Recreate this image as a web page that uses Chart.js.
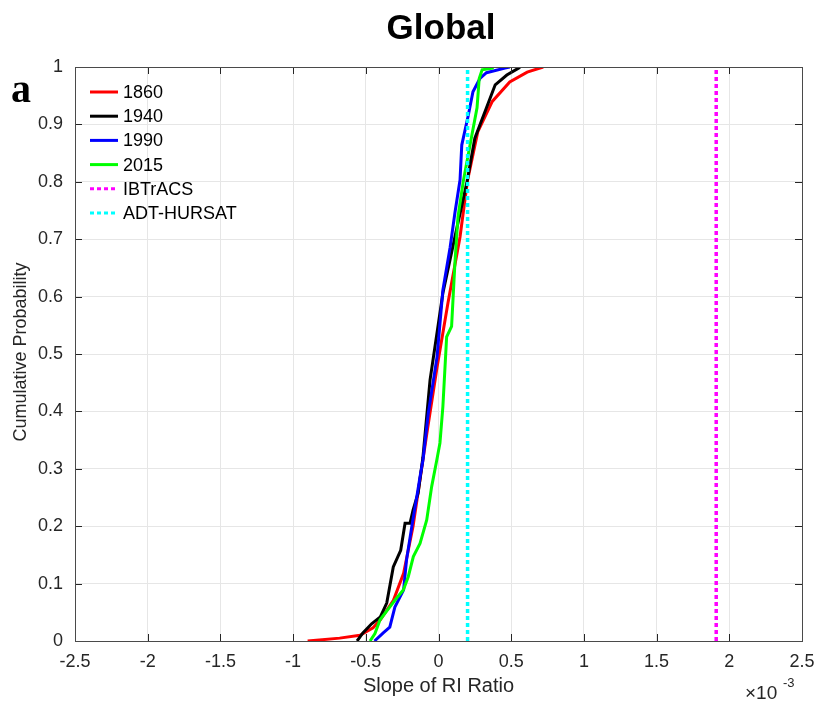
<!DOCTYPE html>
<html lang="en">
<head>
    <meta charset="UTF-8">
    <title>Global</title>
    <script src="https://cdn.jsdelivr.net/npm/chart.js"></script>
    <style>
        html, body { margin: 0; padding: 0; background: #fff; }
        .wrap { position: relative; width: 817px; height: 702px; }
    </style>
</head>
<body>
    <div class="wrap"><canvas id="cdfChart"></canvas></div>

    <script>
        // values in units of 1e-3
        const xTicks = [-2.5, -2, -1.5, -1, -0.5, 0, 0.5, 1, 1.5, 2, 2.5];
        const yTicks = [0, 0.1, 0.2, 0.3, 0.4, 0.5, 0.6, 0.7, 0.8, 0.9, 1];

        const x1860 = [-0.90, -0.68, -0.54, -0.45, -0.40, -0.31, -0.24, -0.175, -0.08, -0.01, 0.065, 0.148, 0.20, 0.27, 0.37, 0.49, 0.61, 0.72];
        const y1860 = [0, 0.005, 0.01, 0.023, 0.037, 0.071, 0.118, 0.20, 0.362, 0.477, 0.589, 0.704, 0.803, 0.887, 0.94, 0.974, 0.991, 1];

        const x1940 = [-0.56, -0.52, -0.46, -0.40, -0.356, -0.311, -0.26, -0.23, -0.196, -0.175, -0.14, -0.107, -0.058, 0.03, 0.113, 0.196, 0.25, 0.33, 0.39, 0.47, 0.55, 0.56];
        const y1940 = [0, 0.014, 0.03, 0.042, 0.066, 0.129, 0.158, 0.205, 0.205, 0.228, 0.258, 0.32, 0.455, 0.606, 0.704, 0.80, 0.876, 0.929, 0.969, 0.986, 0.998, 1];

        const x1990 = [-0.44, -0.38, -0.335, -0.30, -0.24, -0.22, -0.18, -0.145, -0.127, -0.107, -0.07, -0.01, 0.03, 0.08, 0.113, 0.148, 0.16, 0.205, 0.237, 0.285, 0.33, 0.457, 0.49];
        const y1990 = [0, 0.014, 0.024, 0.059, 0.089, 0.141, 0.205, 0.258, 0.286, 0.315, 0.397, 0.495, 0.611, 0.686, 0.746, 0.803, 0.864, 0.916, 0.957, 0.98, 0.99, 0.998, 1];

        const x2015 = [-0.471, -0.437, -0.402, -0.333, -0.30, -0.242, -0.208, -0.173, -0.127, -0.081, -0.047, -0.012, 0.01, 0.03, 0.056, 0.09, 0.113, 0.134, 0.17, 0.23, 0.265, 0.28, 0.30, 0.37, 0.375];
        const y2015 = [0, 0.013, 0.037, 0.06, 0.071, 0.089, 0.112, 0.147, 0.17, 0.211, 0.269, 0.315, 0.345, 0.408, 0.53, 0.548, 0.659, 0.739, 0.80, 0.882, 0.929, 0.98, 0.995, 0.998, 1];

        const ibtracsSlope = 1.91;
        const adtHursatSlope = 0.2;

        const pts = (xs, ys) => xs.map((x, i) => ({ x: x, y: ys[i] }));
        const vline = (x) => [{ x: x, y: 0 }, { x: x, y: 1 }];

        const textColor = '#262626';

        // title, panel letter, axis labels, box, inward ticks and legend
        const decorations = {
            id: 'decorations',
            afterDraw(chart) {
                const ctx = chart.ctx;
                const area = chart.chartArea;
                const xs = chart.scales.x;
                const ys = chart.scales.y;
                ctx.save();

                // inward ticks on all four sides
                ctx.strokeStyle = textColor;
                ctx.lineWidth = 1;
                ctx.beginPath();
                xTicks.forEach(v => {
                    const px = Math.round(xs.getPixelForValue(v)) + 0.5;
                    ctx.moveTo(px, area.bottom); ctx.lineTo(px, area.bottom - 7);
                    ctx.moveTo(px, area.top); ctx.lineTo(px, area.top + 7);
                });
                yTicks.forEach(v => {
                    const py = Math.round(ys.getPixelForValue(v)) + 0.5;
                    ctx.moveTo(area.left, py); ctx.lineTo(area.left + 7, py);
                    ctx.moveTo(area.right, py); ctx.lineTo(area.right - 7, py);
                });
                ctx.stroke();
                ctx.strokeStyle = '#4a4a4a';
                ctx.strokeRect(Math.round(area.left) + 0.5, Math.round(area.top) + 0.5,
                    Math.round(area.right - area.left), Math.round(area.bottom - area.top));

                // title
                ctx.fillStyle = '#000';
                ctx.textAlign = 'center';
                ctx.textBaseline = 'alphabetic';
                ctx.font = 'bold 35px "Liberation Sans", Arial, sans-serif';
                ctx.fillText('Global', 441, 39);

                // panel letter
                ctx.textAlign = 'left';
                ctx.font = 'bold 40px "Liberation Serif", "Times New Roman", serif';
                ctx.fillText('a', 11, 102);

                // axis labels
                ctx.fillStyle = textColor;
                ctx.textAlign = 'center';
                ctx.textBaseline = 'middle';
                ctx.font = '20px "Liberation Sans", Arial, sans-serif';
                ctx.fillText('Slope of RI Ratio', (area.left + area.right) / 2, 686);
                ctx.save();
                ctx.translate(21, 352);
                ctx.rotate(-Math.PI / 2);
                ctx.font = '18px "Liberation Sans", Arial, sans-serif';
                ctx.fillText('Cumulative Probability', 0, 0);
                ctx.restore();

                // exponent
                ctx.textAlign = 'left';
                ctx.font = '19px "Liberation Sans", Arial, sans-serif';
                ctx.fillText('\u00d710', 745, 694);
                ctx.font = '13px "Liberation Sans", Arial, sans-serif';
                ctx.fillText('-3', 783, 683);

                // legend
                const rowY = 92, rowStep = 24.2;
                chart.data.datasets.forEach((ds, i) => {
                    const y = rowY + i * rowStep;
                    ctx.strokeStyle = ds.borderColor;
                    ctx.lineWidth = 3;
                    ctx.setLineDash(ds.borderDash || []);
                    ctx.beginPath();
                    ctx.moveTo(90, y);
                    ctx.lineTo(118, y);
                    ctx.stroke();
                    ctx.setLineDash([]);
                    ctx.fillStyle = '#000';
                    ctx.font = '18px "Liberation Sans", Arial, sans-serif';
                    ctx.textBaseline = 'middle';
                    ctx.fillText(ds.label, 123, y + 1);
                });

                ctx.restore();
            }
        };

        new Chart(document.getElementById('cdfChart'), {
            type: 'line',
            data: {
                datasets: [
                    { label: '1860', data: pts(x1860, y1860), borderColor: '#ff0000', borderWidth: 3, order: 6 },
                    { label: '1940', data: pts(x1940, y1940), borderColor: '#000000', borderWidth: 3, order: 5 },
                    { label: '1990', data: pts(x1990, y1990), borderColor: '#0000ff', borderWidth: 3, order: 4 },
                    { label: '2015', data: pts(x2015, y2015), borderColor: '#00ff00', borderWidth: 3, order: 3 },
                    { label: 'IBTrACS', data: vline(ibtracsSlope), borderColor: '#ff00ff', borderWidth: 3.5, borderDash: [4, 3], order: 2 },
                    { label: 'ADT-HURSAT', data: vline(adtHursatSlope), borderColor: '#00ffff', borderWidth: 3.5, borderDash: [4, 3], order: 1 }
                ]
            },
            options: {
                responsive: true,
                maintainAspectRatio: false,
                animation: false,
                devicePixelRatio: 1,
                layout: { padding: { top: 67, right: 15, bottom: 0, left: 0 } },
                elements: {
                    point: { radius: 0, hoverRadius: 0 },
                    line: { tension: 0, fill: false, borderCapStyle: 'butt' }
                },
                plugins: {
                    legend: { display: false },
                    title: { display: false },
                    tooltip: { enabled: false }
                },
                scales: {
                    x: {
                        type: 'linear',
                        min: -2.5,
                        max: 2.5,
                        afterBuildTicks: (scale) => { scale.ticks = xTicks.map(v => ({ value: v })); },
                        afterFit: (scale) => {
                            scale.height = 61;
                            scale.paddingLeft = 0;
                            scale.paddingRight = 0;
                        },
                        grid: { color: '#e6e6e6', drawTicks: false },
                        border: { display: false },
                        ticks: {
                            padding: 10,
                            maxRotation: 0,
                            color: textColor,
                            font: { family: '"Liberation Sans", Arial, sans-serif', size: 18 },
                            callback: (v) => String(v)
                        }
                    },
                    y: {
                        type: 'linear',
                        min: 0,
                        max: 1,
                        afterBuildTicks: (scale) => { scale.ticks = yTicks.map(v => ({ value: v })); },
                        afterFit: (scale) => {
                            scale.width = 75;
                            scale.paddingTop = 0;
                            scale.paddingBottom = 0;
                        },
                        grid: { color: '#e6e6e6', drawTicks: false },
                        border: { display: false },
                        ticks: {
                            padding: 12,
                            color: textColor,
                            font: { family: '"Liberation Sans", Arial, sans-serif', size: 18 },
                            callback: (v) => String(v)
                        }
                    }
                }
            },
            plugins: [decorations]
        });
    </script>
</body>
</html>
